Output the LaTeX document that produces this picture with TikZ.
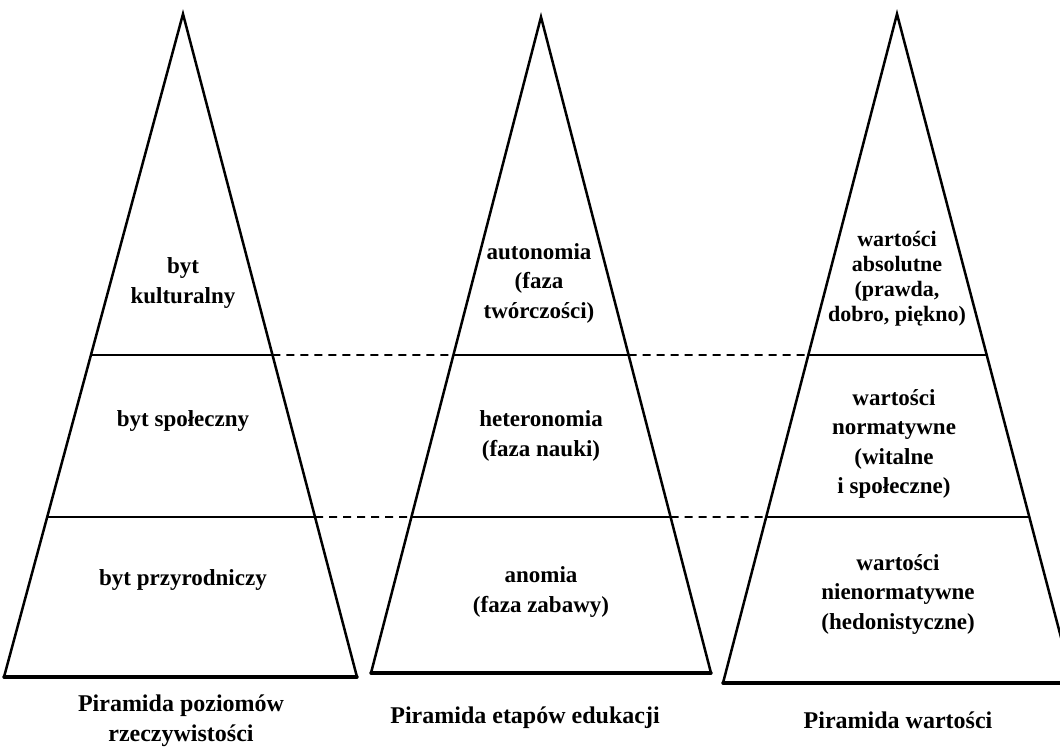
\documentclass[tikz,border=0pt]{standalone}
\usepackage{fontspec}
\setmainfont{Liberation Serif}
\usetikzlibrary{calc}
\begin{document}
\begin{tikzpicture}[x=1pt,y=-1pt,
  side/.style={line width=2.5pt, line join=miter, line cap=round},
  basel/.style={line width=3.4pt, line cap=round},
  divider/.style={line width=1.7pt},
  dashdiv/.style={line width=1.7pt, dash pattern=on 8pt off 6pt},
  lbl/.style={font=\bfseries\fontsize{23}{29.5}\selectfont, align=center, inner sep=0pt},
  lbltight/.style={font=\bfseries\fontsize{22}{25}\selectfont, align=center, inner sep=0pt},
  captxt/.style={font=\bfseries\fontsize{24}{30}\selectfont, align=center, inner sep=0pt}]
\useasboundingbox (0,0) rectangle (1060,749);
\clip (0,0) rectangle (1060,749);
% triangle corners
\coordinate (A1) at (183,14);  \coordinate (L1) at (4,677);   \coordinate (R1) at (357,677);
\coordinate (A2) at (541,17);  \coordinate (L2) at (371,673); \coordinate (R2) at (711,673);
\coordinate (A3) at (897,14);  \coordinate (L3) at (723,683); \coordinate (R3) at (1073,683);
% divider points
\coordinate (U1l) at ($(A1)!0.5143!(L1)$); \coordinate (U1r) at ($(A1)!0.5143!(R1)$);
\coordinate (D1l) at ($(A1)!0.7587!(L1)$); \coordinate (D1r) at ($(A1)!0.7587!(R1)$);
\coordinate (U2l) at ($(A2)!0.5152!(L2)$); \coordinate (U2r) at ($(A2)!0.5152!(R2)$);
\coordinate (D2l) at ($(A2)!0.7622!(L2)$); \coordinate (D2r) at ($(A2)!0.7622!(R2)$);
\coordinate (U3l) at ($(A3)!0.5097!(L3)$); \coordinate (U3r) at ($(A3)!0.5097!(R3)$);
\coordinate (D3l) at ($(A3)!0.7519!(L3)$); \coordinate (D3r) at ($(A3)!0.7519!(R3)$);
% dividers
\draw[divider] (U1l) -- (U1r); \draw[divider] (D1l) -- (D1r);
\draw[divider] (U2l) -- (U2r); \draw[divider] (D2l) -- (D2r);
\draw[divider] (U3l) -- (U3r); \draw[divider] (D3l) -- (D3r);
\draw[dashdiv] (U1r) -- (U2l); \draw[dashdiv] (U2r) -- (U3l);
\draw[dashdiv] (D1r) -- (D2l); \draw[dashdiv] (D2r) -- (D3l);
% triangles
\draw[side] (L1) -- (A1) -- (R1); \draw[basel] (L1) -- (R1);
\draw[side] (L2) -- (A2) -- (R2); \draw[basel] (L2) -- (R2);
\draw[side] (L3) -- (A3) -- (R3); \draw[basel] (L3) -- (R3);
% labels
\node[lbl] (t1a) at (183,283) {byt\\kulturalny};
\node[lbl] (t1b) at (183,421) {byt społeczny};
\node[lbl] (t1c) at (183,580) {byt przyrodniczy};
\node[lbl] (t2a) at (539,283) {autonomia\\(faza\\twórczości)};
\node[lbl] (t2b) at (541,436) {heteronomia\\(faza nauki)};
\node[lbl] (t2c) at (541,592) {anomia\\(faza zabawy)};
\node[lbltight] (t3a) at (897,279) {wartości\\absolutne\\(prawda,\\dobro, piękno)};
\node[lbl] (t3b) at (894,444) {wartości\\normatywne\\(witalne\\i społeczne)};
\node[lbl] (t3c) at (898,594) {wartości\\nienormatywne\\(hedonistyczne)};
% captions
\node[captxt] (c1) at (181,721) {Piramida poziomów\\rzeczywistości};
\node[captxt] (c2) at (525,718) {Piramida etapów edukacji};
\node[captxt] (c3) at (898,720) {Piramida wartości};
\end{tikzpicture}
\end{document}
